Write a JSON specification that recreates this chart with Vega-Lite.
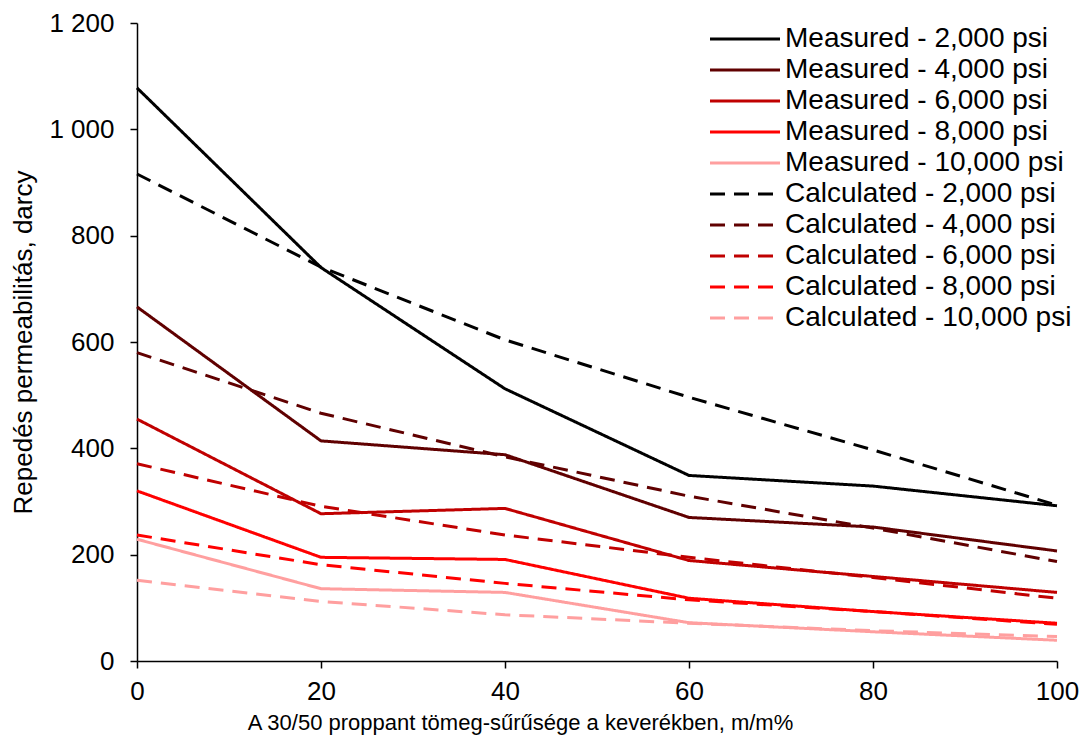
{
  "$schema": "https://vega.github.io/schema/vega-lite/v6.json",
  "width": 920,
  "height": 638,
  "autosize": {"type": "none"},
  "padding": {"left": 137, "top": 23, "right": 26, "bottom": 93},
  "background": "white",
  "config": {
    "font": "Liberation Sans",
    "view": {"stroke": null},
    "axis": {"grid": false, "domainColor": "black", "tickColor": "black", "domainWidth": 1.5, "tickWidth": 1.5, "tickSize": 7, "labelColor": "black", "titleColor": "black", "titleFontWeight": "normal", "labelFont": "Liberation Sans", "titleFont": "Liberation Sans"}
  },
  "data": {
    "values": [
      {"x": 0, "value": 1078, "series": "Measured - 2,000 psi"},
      {"x": 20, "value": 740, "series": "Measured - 2,000 psi"},
      {"x": 40, "value": 512, "series": "Measured - 2,000 psi"},
      {"x": 60, "value": 349, "series": "Measured - 2,000 psi"},
      {"x": 80, "value": 329, "series": "Measured - 2,000 psi"},
      {"x": 100, "value": 292, "series": "Measured - 2,000 psi"},
      {"x": 0, "value": 666, "series": "Measured - 4,000 psi"},
      {"x": 20, "value": 414, "series": "Measured - 4,000 psi"},
      {"x": 40, "value": 388, "series": "Measured - 4,000 psi"},
      {"x": 60, "value": 270, "series": "Measured - 4,000 psi"},
      {"x": 80, "value": 252, "series": "Measured - 4,000 psi"},
      {"x": 100, "value": 207, "series": "Measured - 4,000 psi"},
      {"x": 0, "value": 455, "series": "Measured - 6,000 psi"},
      {"x": 20, "value": 277, "series": "Measured - 6,000 psi"},
      {"x": 40, "value": 287, "series": "Measured - 6,000 psi"},
      {"x": 60, "value": 189, "series": "Measured - 6,000 psi"},
      {"x": 80, "value": 159, "series": "Measured - 6,000 psi"},
      {"x": 100, "value": 129, "series": "Measured - 6,000 psi"},
      {"x": 0, "value": 320, "series": "Measured - 8,000 psi"},
      {"x": 20, "value": 195, "series": "Measured - 8,000 psi"},
      {"x": 40, "value": 191, "series": "Measured - 8,000 psi"},
      {"x": 60, "value": 118, "series": "Measured - 8,000 psi"},
      {"x": 80, "value": 93, "series": "Measured - 8,000 psi"},
      {"x": 100, "value": 71, "series": "Measured - 8,000 psi"},
      {"x": 0, "value": 229, "series": "Measured - 10,000 psi"},
      {"x": 20, "value": 136, "series": "Measured - 10,000 psi"},
      {"x": 40, "value": 129, "series": "Measured - 10,000 psi"},
      {"x": 60, "value": 72, "series": "Measured - 10,000 psi"},
      {"x": 80, "value": 55, "series": "Measured - 10,000 psi"},
      {"x": 100, "value": 39, "series": "Measured - 10,000 psi"},
      {"x": 0, "value": 916, "series": "Calculated - 2,000 psi"},
      {"x": 20, "value": 741, "series": "Calculated - 2,000 psi"},
      {"x": 40, "value": 604, "series": "Calculated - 2,000 psi"},
      {"x": 60, "value": 496, "series": "Calculated - 2,000 psi"},
      {"x": 80, "value": 397, "series": "Calculated - 2,000 psi"},
      {"x": 100, "value": 293, "series": "Calculated - 2,000 psi"},
      {"x": 0, "value": 580, "series": "Calculated - 4,000 psi"},
      {"x": 20, "value": 466, "series": "Calculated - 4,000 psi"},
      {"x": 40, "value": 384, "series": "Calculated - 4,000 psi"},
      {"x": 60, "value": 310, "series": "Calculated - 4,000 psi"},
      {"x": 80, "value": 250, "series": "Calculated - 4,000 psi"},
      {"x": 100, "value": 187, "series": "Calculated - 4,000 psi"},
      {"x": 0, "value": 371, "series": "Calculated - 6,000 psi"},
      {"x": 20, "value": 291, "series": "Calculated - 6,000 psi"},
      {"x": 40, "value": 237, "series": "Calculated - 6,000 psi"},
      {"x": 60, "value": 195, "series": "Calculated - 6,000 psi"},
      {"x": 80, "value": 157, "series": "Calculated - 6,000 psi"},
      {"x": 100, "value": 118, "series": "Calculated - 6,000 psi"},
      {"x": 0, "value": 237, "series": "Calculated - 8,000 psi"},
      {"x": 20, "value": 181, "series": "Calculated - 8,000 psi"},
      {"x": 40, "value": 146, "series": "Calculated - 8,000 psi"},
      {"x": 60, "value": 115, "series": "Calculated - 8,000 psi"},
      {"x": 80, "value": 93, "series": "Calculated - 8,000 psi"},
      {"x": 100, "value": 69, "series": "Calculated - 8,000 psi"},
      {"x": 0, "value": 152, "series": "Calculated - 10,000 psi"},
      {"x": 20, "value": 112, "series": "Calculated - 10,000 psi"},
      {"x": 40, "value": 87, "series": "Calculated - 10,000 psi"},
      {"x": 60, "value": 71, "series": "Calculated - 10,000 psi"},
      {"x": 80, "value": 57, "series": "Calculated - 10,000 psi"},
      {"x": 100, "value": 46, "series": "Calculated - 10,000 psi"}
    ]
  },
  "mark": {"type": "line", "strokeWidth": 3, "strokeCap": "butt", "strokeJoin": "miter"},
  "encoding": {
    "x": {
      "field": "x", "type": "quantitative",
      "scale": {"domain": [0, 100], "nice": false, "zero": false},
      "axis": {"values": [0, 20, 40, 60, 80, 100], "title": "A 30/50 proppant tömeg-sűrűsége a keverékben, m/m%", "labelFontSize": 26, "titleFontSize": 22, "labelPadding": 10, "titlePadding": 8, "titleX": 383, "labelFlush": false}
    },
    "y": {
      "field": "value", "type": "quantitative",
      "scale": {"domain": [0, 1200], "nice": false},
      "axis": {"values": [0, 200, 400, 600, 800, 1000, 1200], "title": "Repedés permeabilitás, darcy", "labelExpr": "replace(format(datum.value, ','), ',', ' ')", "labelFontSize": 26, "titleFontSize": 26, "labelPadding": 16, "titlePadding": 12}
    },
    "color": {
      "field": "series", "type": "nominal",
      "scale": {
        "domain": ["Measured - 2,000 psi", "Measured - 4,000 psi", "Measured - 6,000 psi", "Measured - 8,000 psi", "Measured - 10,000 psi", "Calculated - 2,000 psi", "Calculated - 4,000 psi", "Calculated - 6,000 psi", "Calculated - 8,000 psi", "Calculated - 10,000 psi"],
        "range": ["#000000", "#600000", "#C00000", "#FF0000", "#FF9F9F", "#000000", "#600000", "#C00000", "#FF0000", "#FF9F9F"]
      },
      "legend": {"title": null, "orient": "none", "legendX": 594, "legendY": 2, "symbolType": "M-7,0H7", "symbolSize": 100, "symbolStrokeWidth": 3, "labelFontSize": 28, "labelFont": "Liberation Sans", "labelColor": "black", "labelOffset": 26, "labelLimit": 400, "rowPadding": 3}
    },
    "strokeDash": {
      "field": "series", "type": "nominal",
      "scale": {
        "domain": ["Measured - 2,000 psi", "Measured - 4,000 psi", "Measured - 6,000 psi", "Measured - 8,000 psi", "Measured - 10,000 psi", "Calculated - 2,000 psi", "Calculated - 4,000 psi", "Calculated - 6,000 psi", "Calculated - 8,000 psi", "Calculated - 10,000 psi"],
        "range": [[1, 0], [1, 0], [1, 0], [1, 0], [1, 0], [15, 9], [15, 9], [15, 9], [15, 9], [15, 9]]
      }
    }
  }
}
